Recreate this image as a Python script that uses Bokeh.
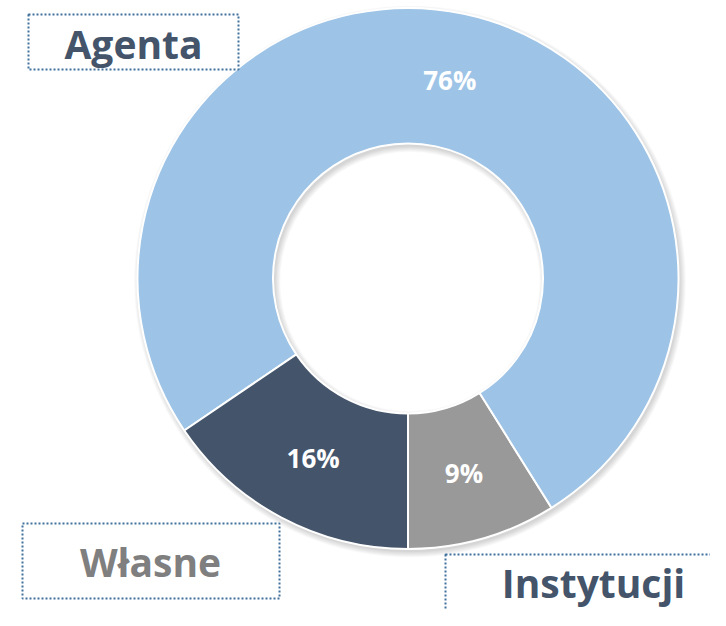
import math
from bokeh.plotting import figure
from bokeh.models import Range1d, ColumnDataSource
from bokeh.core.properties import value
from bokeh.embed import file_html
from bokeh.resources import INLINE

# ---- data (order: drawn anticlockwise starting at the bottom) ----
categories = ["Instytucji", "Agenta", "Własne"]
shares = [8.9, 75.6, 15.5]
colors = ["#999999", "#9DC3E6", "#44546A"]

# ---- layout (data y = 626 - image y) ----
W, H = 710, 610
cx, cy = 407.5, 348.0
r_out, r_in = 270.5, 135.0
FONT = value("Open Sans")

p = figure(width=W, height=H, output_backend="svg", toolbar_location=None,
           x_range=Range1d(0, W), y_range=Range1d(626 - H, 626),
           min_border=0, outline_line_color=None)
p.axis.visible = False
p.grid.visible = False
p.background_fill_color = "white"
p.border_fill_color = "white"

# soft shadow under the donut
for k in range(7):
    p.annulus(x=cx + 2, y=cy - 3, inner_radius=r_in - k * 0.9, outer_radius=r_out + k * 0.9,
              fill_color="black", fill_alpha=0.025, line_color=None)

total = sum(shares)
starts, ends, lx, ly, labels = [], [], [], [], []
a = -math.pi / 2
r_mid = (r_in + r_out) / 2
for s in shares:
    span = 2 * math.pi * s / total
    starts.append(a)
    ends.append(a + span)
    mid = a + span / 2
    lx.append(cx + r_mid * math.cos(mid))
    ly.append(cy + r_mid * math.sin(mid))
    labels.append(f"{s:.0f}%")
    a += span

src = ColumnDataSource(dict(start=starts, end=ends, color=colors, cat=categories,
                            lx=lx, ly=ly, label=labels))
p.annular_wedge(x=cx, y=cy, inner_radius=r_in, outer_radius=r_out,
                start_angle="start", end_angle="end", fill_color="color",
                line_color="white", line_width=2, source=src)

p.text(x="lx", y="ly", text="label", source=src, text_color="white",
       text_font=FONT, text_font_style="bold", text_font_size="26px",
       text_align="center", text_baseline="middle")

# ---- category label boxes ----
box_left = [28, 22, 445]
box_right = [238, 279, 760]
box_top = [612, 103, 72]
box_bottom = [557, 28, -30]
p.quad(left=box_left, right=box_right, top=box_top, bottom=box_bottom,
       fill_color=None, line_color="#41719C", line_width=2, line_dash="2 2")

name_text = ["Agenta", "Własne", "Instytucji"]
name_x = [133, 150, 593]
name_y = [583.5, 65, 44]
name_color = ["#44546A", "#7F7F7F", "#44546A"]
p.text(x=name_x, y=name_y, text=name_text, text_color=name_color,
       text_font=FONT, text_font_style="bold", text_font_size="39px",
       text_align="center", text_baseline="middle")

open("out.html", "w").write(file_html(p, INLINE))
